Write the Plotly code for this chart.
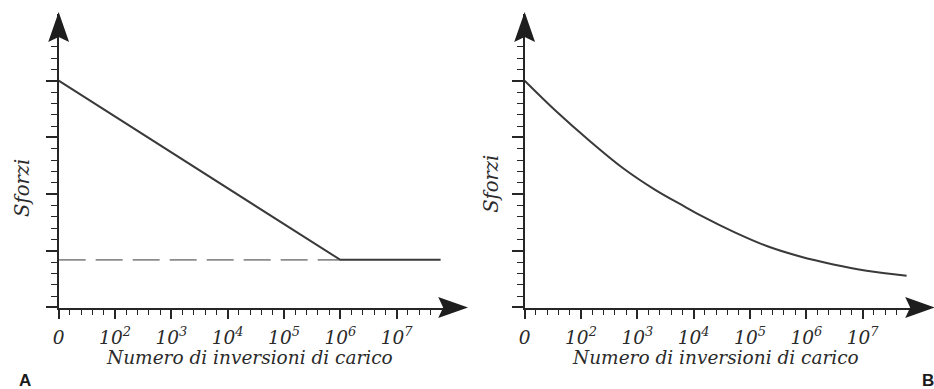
import plotly.graph_objects as go

W, H = 934, 389

# ---------------- data ----------------
tick_pos = [0, 1, 2, 3, 4, 5, 6]
tick_labels = ["0", "10<sup>2</sup>", "10<sup>3</sup>", "10<sup>4</sup>",
               "10<sup>5</sup>", "10<sup>6</sup>", "10<sup>7</sup>"]
x_minor = [round(i * 0.2, 1) for i in range(1, 34) if i % 5 != 0]
y_major = [0, 1, 2, 3, 4]
y_minor = [round(i * 0.2, 1) for i in range(1, 24) if i % 5 != 0]

# panel A: linear decline to fatigue limit, then flat
x_a = [0, 5.0, 6.78]
y_a = [4.0, 0.84, 0.84]
# fatigue-limit dashed reference
x_limit = [0, 5.0]
y_limit = [0.84, 0.84]

# panel B: continuous curve
x_b = [0, 0.55, 1.14, 1.73, 2.31, 2.84, 3.13, 3.72, 4.31, 4.89, 5.48, 6.07, 6.78]
y_b = [4.0, 3.47, 2.95, 2.47, 2.08, 1.78, 1.62, 1.33, 1.08, 0.90, 0.76, 0.65, 0.56]

x_title = "Numero di inversioni di carico"
y_title = "Sforzi"

# ---------------- geometry ----------------
UNIT = 56.7          # px per major tick
AX_Y = 307.5         # pixel row of x-axes
Y_TOP = 14           # top of y-axis line (px)
ORIG_A = 53
ORIG_B = 522
END_A = 452
END_B = 920

def fx(px):
    return px / W

def fy(py):
    return 1 - py / H

INK = "#262626"
LINE = "#3a3a3a"
TXT = "#2a2a2a"
serif = "DejaVu Serif"

fig = go.Figure()

fig.add_trace(go.Scatter(x=x_limit, y=y_limit, mode="lines",
                         line=dict(color="#8c8c8c", width=1.6, dash="27px,10px"),
                         xaxis="x", yaxis="y", showlegend=False, hoverinfo="skip"))
fig.add_trace(go.Scatter(x=x_a, y=y_a, mode="lines",
                         line=dict(color=LINE, width=2),
                         xaxis="x", yaxis="y", showlegend=False))
fig.add_trace(go.Scatter(x=x_b, y=y_b, mode="lines",
                         line=dict(color=LINE, width=2, shape="spline", smoothing=1.0),
                         xaxis="x2", yaxis="y2", showlegend=False))

def xaxis_cfg(orig, end, anchor):
    return dict(
        domain=[fx(orig), fx(end)], range=[-0.0001, (end - orig) / UNIT],
        anchor=anchor, showline=True, linecolor=INK, linewidth=2,
        showgrid=False, zeroline=False,
        ticks="outside", ticklen=9, tickwidth=1.6, tickcolor=INK,
        tickmode="array", tickvals=tick_pos, ticktext=tick_labels,
        tickfont=dict(family=serif, size=18.5, color=TXT, style="italic"),
        ticklabelstandoff=3,
        minor=dict(ticks="outside", ticklen=5, tickwidth=1.4, tickcolor=INK,
                   tickmode="array", tickvals=x_minor, showgrid=False),
        fixedrange=True,
    )

def yaxis_cfg(anchor):
    return dict(
        domain=[fy(AX_Y), fy(Y_TOP)], range=[-0.0001, (AX_Y - Y_TOP) / UNIT],
        anchor=anchor, showline=True, linecolor=INK, linewidth=2,
        showgrid=False, zeroline=False,
        ticks="outside", ticklen=11, tickwidth=1.6, tickcolor=INK,
        tickmode="array", tickvals=y_major, showticklabels=False,
        minor=dict(ticks="outside", ticklen=6, tickwidth=1.4, tickcolor=INK,
                   tickmode="array", tickvals=y_minor, showgrid=False),
        fixedrange=True,
    )

def arrow_up(tx, ty, L=30, hw=10.5, notch=25):
    pts = [(tx, ty), (tx + hw, ty + L), (tx, ty + notch), (tx - hw, ty + L)]
    return "M " + " L ".join(f"{fx(a):.5f},{fy(b):.5f}" for a, b in pts) + " Z"

def arrow_right(tx, ty, L=30, hw=10.5, notch=25):
    pts = [(tx, ty), (tx - L, ty - hw), (tx - notch, ty), (tx - L, ty + hw)]
    return "M " + " L ".join(f"{fx(a):.5f},{fy(b):.5f}" for a, b in pts) + " Z"

shapes = []
for p in [arrow_up(ORIG_A, 12), arrow_right(465, AX_Y),
          arrow_up(ORIG_B, 12), arrow_right(935, AX_Y)]:
    shapes.append(dict(type="path", xref="paper", yref="paper", path=p,
                       fillcolor="#1e1e1e", line=dict(width=0), layer="above"))

ann = []
for cx, cy in [(16, 188), (488, 184)]:
    ann.append(dict(x=fx(cx), y=fy(cy), xref="paper", yref="paper", text=y_title,
                    showarrow=False, textangle=-90, xanchor="center", yanchor="middle",
                    font=dict(family=serif, size=19.5, color=TXT, style="italic")))
for cx, cy in [(245, 357), (714, 357)]:
    ann.append(dict(x=fx(cx), y=fy(cy), xref="paper", yref="paper", text=x_title,
                    showarrow=False, xanchor="center", yanchor="middle",
                    font=dict(family=serif, size=18.5, color=TXT, style="italic")))
for t, cx, cy in [("A", 19, 380), ("B", 928, 380)]:
    ann.append(dict(x=fx(cx), y=fy(cy), xref="paper", yref="paper", text=t,
                    showarrow=False, xanchor="center", yanchor="middle",
                    font=dict(family="Liberation Sans", size=17, color="#1a1a1a", weight="bold")))

fig.update_layout(
    width=W, height=H, margin=dict(l=0, r=0, t=0, b=0),
    paper_bgcolor="white", plot_bgcolor="white",
    xaxis=xaxis_cfg(ORIG_A, END_A, "y"),
    yaxis=yaxis_cfg("x"),
    xaxis2=xaxis_cfg(ORIG_B, END_B, "y2"),
    yaxis2=yaxis_cfg("x2"),
    shapes=shapes, annotations=ann, showlegend=False,
)

fig.write_html("out.html", config={"displayModeBar": False},
               post_script="document.body.style.margin='0';document.body.style.overflow='hidden';")
